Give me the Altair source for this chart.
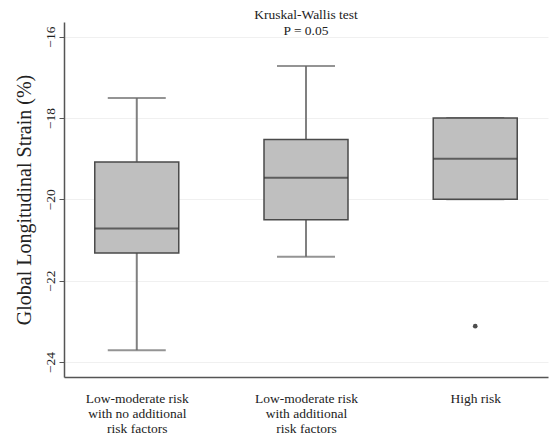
import altair as alt
import pandas as pd

# Groups and their five-number summaries (Global Longitudinal Strain, %)
groups = [
    "Low-moderate risk with no additional risk factors",
    "Low-moderate risk with additional risk factors",
    "High risk",
]
label_lines = [
    ["Low-moderate risk", "with no additional", "risk factors"],
    ["Low-moderate risk", "with additional", "risk factors"],
    ["High risk"],
]
lower = [-23.71, -21.41, -20.0]
q1 = [-21.32, -20.5, -20.0]
median = [-20.72, -19.47, -19.0]
q3 = [-19.08, -18.53, -18.0]
upper = [-17.51, -16.72, -18.0]

outlier_group = ["High risk"]
outlier_value = [-23.12]

y_ticks = [-16, -18, -20, -22, -24]
title_lines = ["Kruskal-Wallis test", "P = 0.05"]

summary = pd.DataFrame(
    {"group": groups, "lower": lower, "q1": q1, "median": median, "q3": q3, "upper": upper}
)
outliers = pd.DataFrame({"group": outlier_group, "value": outlier_value})

FONT = "Liberation Serif, Times New Roman, serif"

# multi-line category labels
label_expr = "''"
for g, lines in reversed(list(zip(groups, label_lines))):
    arr = "[" + ", ".join("'" + s + "'" for s in lines) + "]"
    label_expr = f"datum.label == '{g}' ? {arr} : ({label_expr})"

x_enc = alt.X(
    "group:N",
    sort=groups,
    scale=alt.Scale(type="point", padding=0.43),
    axis=alt.Axis(
        title=None,
        labelExpr=label_expr,
        labelAngle=0,
        ticks=False,
        labelFont=FONT,
        labelFontSize=13.5,
        labelLineHeight=15,
        labelColor="#222222",
        labelPadding=14,
        domainColor="#555555",
        domainWidth=1.5,
        grid=False,
    ),
)

y_scale = alt.Scale(domain=[-24.37, -15.64], nice=False, zero=False)
y_axis = alt.Axis(
    title="Global Longitudinal Strain (%)",
    values=y_ticks,
    labelAngle=-90,
    labelAlign="center",
    labelBaseline="bottom",
    labelFont=FONT,
    labelFontSize=13.5,
    labelColor="#222222",
    labelPadding=2,
    tickSize=5,
    tickColor="#555555",
    domainColor="#555555",
    domainWidth=1.5,
    titleFont=FONT,
    titleFontSize=20,
    titleFontWeight="normal",
    titleColor="#222222",
    titlePadding=9,
    grid=True,
    gridColor="#f0f0f0",
    gridWidth=1,
)

base = alt.Chart(summary)

whisker_low = base.mark_rule(color="#808080", strokeWidth=2).encode(
    x=x_enc, y=alt.Y("lower:Q", scale=y_scale, axis=y_axis), y2="q1:Q"
)
whisker_high = base.mark_rule(color="#808080", strokeWidth=2).encode(
    x=x_enc, y=alt.Y("q3:Q", scale=y_scale, axis=y_axis), y2="upper:Q"
)
cap_low = base.mark_tick(color="#666666", size=58, thickness=2).encode(
    x=x_enc, y=alt.Y("lower:Q", scale=y_scale, axis=y_axis)
)
cap_high = base.mark_tick(color="#666666", size=58, thickness=2).encode(
    x=x_enc, y=alt.Y("upper:Q", scale=y_scale, axis=y_axis)
)
box = base.mark_bar(
    size=84, color="#bfbfbf", stroke="#4a4a4a", strokeWidth=1.5
).encode(x=x_enc, y=alt.Y("q1:Q", scale=y_scale, axis=y_axis), y2="q3:Q")
mid = base.mark_tick(color="#333333", size=84, thickness=2).encode(
    x=x_enc, y=alt.Y("median:Q", scale=y_scale, axis=y_axis)
)
points = alt.Chart(outliers).mark_point(
    filled=True, color="#4d4d4d", size=22, opacity=1
).encode(x=x_enc, y=alt.Y("value:Q", scale=y_scale, axis=y_axis))

chart = (
    alt.layer(whisker_low, whisker_high, cap_low, cap_high, box, mid, points)
    .properties(
        width=484,
        height=355,
        title=alt.TitleParams(
            text=title_lines,
            anchor="middle",
            font=FONT,
            fontSize=13.5,
            fontWeight="normal",
            color="#222222",
            lineHeight=16,
            offset=-15,
        ),
        autosize=alt.AutoSizeParams(type="none"),
        padding={"left": 64, "top": 22, "right": 1, "bottom": 67},
        background="white",
    )
    .configure_view(stroke=None)
)

chart.save("out.html", embed_options={"renderer": "svg", "actions": False})
